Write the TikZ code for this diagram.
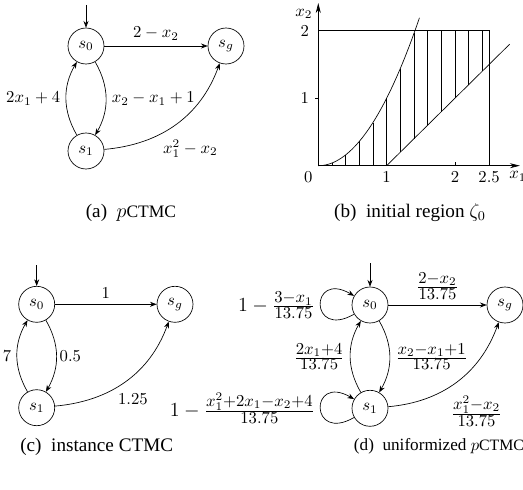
\documentclass[tikz,border=0pt]{standalone}
\usepackage{fontspec}
\setmainfont{Liberation Serif}
\usepackage{amsmath}
\usetikzlibrary{positioning,arrows.meta}
\DeclareMathSizes{12}{12}{10}{7}
\newcommand{\smallctmc}{{\fontsize{10.5}{12}\selectfont CTMC}}

\begin{document}
\begin{tikzpicture}[x=0.6pt,y=0.6pt,>={Stealth[length=4pt,width=3pt]},
  state/.style={draw,circle,minimum size=21.6pt,inner sep=0pt},
  ulab/.style={font=\large},
  capt/.style={font=\fontsize{11.5}{13}\selectfont},
  selfloop/.style={out=210,in=150,distance=31pt},
  axtip/.style={>={Stealth[length=6pt,width=3pt]}}]
\useasboundingbox (0,0) rectangle (523,489);
% (a) the pCTMC
\node[state] (a0) at (86,443) {$s_0$};
\node[state] (ag) at (226,443) {$s_g$};
\node[state] (a1) at (86,338) {$s_1$};
\coordinate (ain) at (86,484);
\draw[->] (ain) -- (a0);
\draw[->] (a0) -- (ag) node[midway,above]{$2-x_2$};
\draw[->] (a0) to[bend left=30] node[midway,right]{$x_2-x_1+1$} (a1);
\draw[->] (a1) to[bend left=30] node[midway,left]{$2x_1+4$} (a0);
\draw[->] (a1) to[out=5,in=-110] node[pos=0.36,below right=-1pt]{$x_1^2-x_2$} (ag);
\node[capt] (capa) at (131,276) {(a)\enspace$p$\smallctmc};
% (b) region
\coordinate (o) at (318.3,323.3);
\begin{scope}[shift={(o)},x=41pt,y=40.5pt]
\draw[->,axtip] (0,0) -- (2.95,0);
\draw[->,axtip] (0,0) -- (0,2.41);
\draw (0,2) -- (2.5,2) -- (2.5,0);
\draw (0,1) -- ++(-2pt,0);
\draw (2,0) -- ++(0,2.5pt);
\draw plot[domain=0:1.48,samples=40] (\x,{\x*\x});
\draw (1,0) -- (2.8,1.8);
\foreach \i in {1,...,12}{
  \pgfmathsetmacro\hx{0.2*\i}
  \pgfmathsetmacro\lo{max(0,\hx-1)}
  \pgfmathsetmacro\hi{min(\hx*\hx,2)}
  \draw (\hx,\lo) -- (\hx,\hi);
}
\node[left=2pt] (yt2) at (0,2) {$2$};
\node[left=2pt] (yt1) at (0,1) {$1$};
\node[below left] (zero) at (0,0) {$0$};
\node[left] (ylab) at (0,2.25) {$x_2$};
\node[below] (xt1) at (1,0) {$1$};
\node[below] (xt2) at (2,0) {$2$};
\node[below] (xt3) at (2.5,0) {$2.5$};
\node[below] (xlab) at (2.92,0) {$x_1$};
\end{scope}
\node[capt] (capb) at (410,276) {(b)\enspace initial region $\zeta_0$};
% (c) instance
\node[state] (c0) at (36.7,184.7) {$s_0$};
\node[state] (cg) at (175,184.7) {$s_g$};
\node[state] (c1) at (36.7,81.3) {$s_1$};
\coordinate (cin) at (36.7,224);
\draw[->] (cin) -- (c0);
\draw[->] (c0) -- (cg) node[midway,above]{$1$};
\draw[->] (c0) to[bend left=30] node[midway,right=-1.5pt]{$0.5$} (c1);
\draw[->] (c1) to[bend left=30] node[midway,left]{$7$} (c0);
\draw[->] (c1) to[out=5,in=-110] node[pos=0.4,below right=-1pt]{$1.25$} (cg);
\node[capt] (capc) at (96.7,42.3) {(c)\enspace instance CTMC};
% (d) uniformized
\node[state] (d0) at (370,184) {$s_0$};
\node[state] (dg) at (505,184) {$s_g$};
\node[state] (d1) at (370,80.7) {$s_1$};
\coordinate (din) at (370,226);
\draw[->] (din) -- (d0);
\draw[->] (d0) -- (dg) node[midway,above,ulab]{$\frac{2-x_2}{13.75}$};
\draw[->] (d0) to[bend left=30] node[midway,right,ulab]{$\frac{x_2-x_1+1}{13.75}$} (d1);
\draw[->] (d1) to[bend left=30] node[midway,left,ulab]{$\frac{2x_1+4}{13.75}$} (d0);
\draw[->] (d1) to[out=5,in=-110] node[pos=0.4,below right,ulab]{$\frac{x_1^2-x_2}{13.75}$} (dg);
\draw[->] (d0) to[selfloop] node[midway,left,ulab]{$1-\frac{3-x_1}{13.75}$} (d0);
\draw[->] (d1) to[selfloop] node[midway,left,ulab]{$1-\frac{x_1^2+2x_1-x_2+4}{13.75}$} (d1);
\node[font=\fontsize{10.3}{12}\selectfont] (capd) at (439,42.3) {(d)\enspace uniformized $p${\fontsize{9.5}{11}\selectfont CTMC}};
\end{tikzpicture}
\end{document}
